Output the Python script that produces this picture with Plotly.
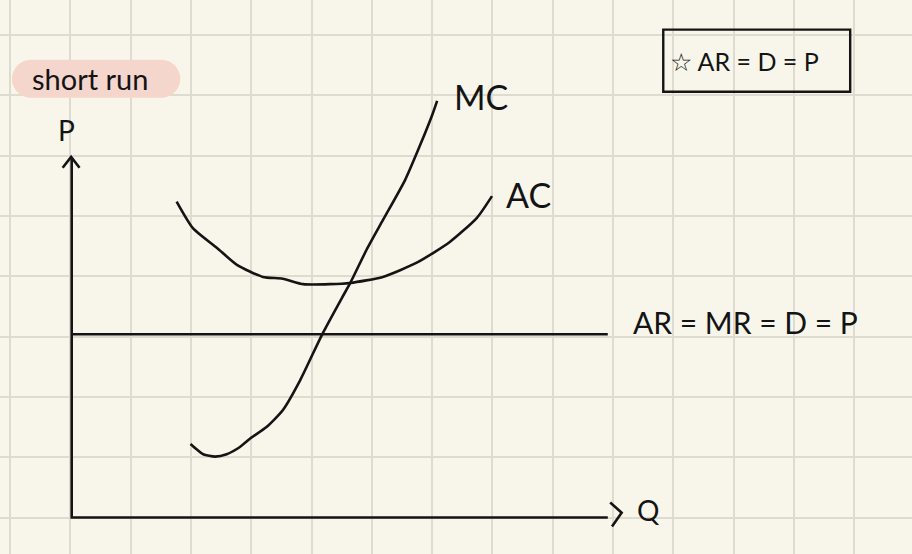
import numpy as np
import plotly.graph_objects as go

# curves in grid units (one square = 1), origin where the P and Q axes meet
mc_q = [1.97, 2.05, 2.18, 2.38, 2.57, 2.79, 2.96, 3.23, 3.50, 3.79, 4.15,
        4.48, 4.62, 4.89, 5.16, 5.53, 5.78, 5.98, 6.06]
mc_p = [1.22, 1.15, 1.05, 1.01, 1.05, 1.17, 1.31, 1.50, 1.78, 2.28, 3.03,
        3.64, 3.89, 4.44, 4.93, 5.60, 6.18, 6.68, 6.91]

ac_q = [1.74, 2.01, 2.41, 2.74, 3.17, 3.50, 3.84, 4.28, 4.62, 5.16, 5.73,
        6.27, 6.72, 6.97]
ac_p = [5.24, 4.80, 4.47, 4.19, 3.99, 3.96, 3.87, 3.87, 3.89, 3.99, 4.23,
        4.57, 4.97, 5.33]

price = 3.04
q_axis_end = 8.89
p_axis_end = 5.98

labels = ["MC", "AC", "AR = MR = D = P", "Q", "P"]
label_x = [6.79, 7.57, 11.17, 9.56, -0.08]
label_y = [6.99, 5.35, 3.24, 0.12, 6.43]
label_size = [34, 34, 30, 28, 28]

note_text = "☆ AR = D = P"
note_box = [9.81, 7.06, 12.91, 8.09]   # x0, y0, x1, y1
tag_text = "short run"
tag_box = [-0.99, 6.96, 1.80, 7.59]

INK = "#141414"
PAPER = "#f8f6eb"
GRID = "#dedcd0"
FONT = "Lato, Noto Sans, sans-serif"

fig = go.Figure()

# pink pill behind "short run"
x0, y0, x1, y1 = tag_box
r = (y1 - y0) / 2
t = np.linspace(-np.pi / 2, np.pi / 2, 30)
px = np.concatenate([x1 - r + r * np.cos(t), x0 + r - r * np.cos(t)])
py = np.concatenate([(y0 + r) + r * np.sin(t), (y0 + r) - r * np.sin(t)])
fig.add_trace(go.Scatter(x=px, y=py, fill="toself", fillcolor="#f5d6cc",
                         mode="none", hoverinfo="skip"))

line = dict(color=INK, width=2.6, shape="spline", smoothing=0.6)
fig.add_trace(go.Scatter(x=ac_q, y=ac_p, mode="lines", line=line))
fig.add_trace(go.Scatter(x=mc_q, y=mc_p, mode="lines", line=line))

axis_line = dict(color=INK, width=2.6)
fig.add_trace(go.Scatter(x=[0, q_axis_end], y=[price, price], mode="lines", line=axis_line))
fig.add_trace(go.Scatter(x=[0, 0, q_axis_end], y=[p_axis_end, 0, 0], mode="lines", line=axis_line))
# arrow heads
fig.add_trace(go.Scatter(x=[-0.15, -0.01, 0.13], y=[5.80, p_axis_end, 5.80],
                         mode="lines", line=axis_line))
fig.add_trace(go.Scatter(x=[8.93, 9.12, 8.96], y=[0.25, 0.08, -0.15],
                         mode="lines", line=axis_line))

for txt, x, y, s in zip(labels, label_x, label_y, label_size):
    fig.add_annotation(x=x, y=y, text=txt, showarrow=False,
                       font=dict(family=FONT, size=s, color=INK))

fig.add_shape(type="rect", x0=note_box[0], y0=note_box[1], x1=note_box[2], y1=note_box[3],
              line=dict(color=INK, width=2.4))
fig.add_annotation(x=(note_box[0] + note_box[2]) / 2 - 0.2, y=(note_box[1] + note_box[3]) / 2,
                   text=note_text, showarrow=False,
                   font=dict(family=FONT, size=25, color=INK))
fig.add_annotation(x=(tag_box[0] + tag_box[2]) / 2 - 0.1, y=(tag_box[1] + tag_box[3]) / 2,
                   text=tag_text, showarrow=False,
                   font=dict(family=FONT, size=29, color=INK))

grid = dict(showgrid=True, gridcolor=GRID, gridwidth=2, dtick=1, zeroline=False,
            showticklabels=False, ticks="", fixedrange=True)
fig.update_xaxes(range=[-1.189, 13.935], tick0=-1.023, **grid)
fig.update_yaxes(range=[-0.605, 8.582], tick0=0, **grid)

fig.update_layout(width=912, height=554, margin=dict(l=0, r=0, t=0, b=0),
                  paper_bgcolor=PAPER, plot_bgcolor=PAPER, showlegend=False)

fig.write_html("out.html", config={"displayModeBar": False},
               post_script="document.body.style.margin='0';")
